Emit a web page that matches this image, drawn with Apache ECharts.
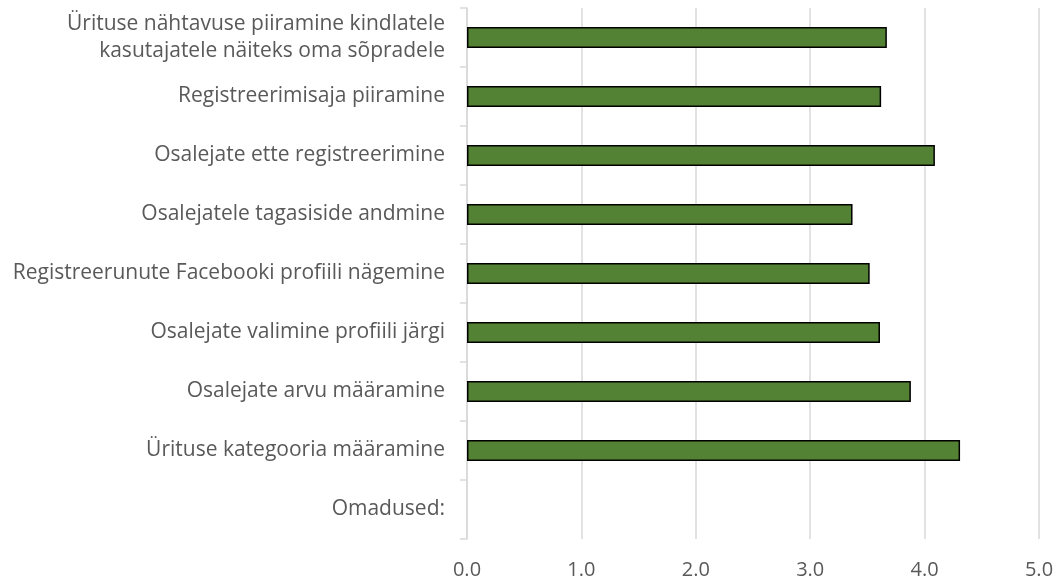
<!DOCTYPE html>
<html lang="et">
<head>
    <meta charset="UTF-8">
    <title>Omadused</title>
    <style>
        html, body { margin: 0; padding: 0; background: #fff; }
        #chart { width: 1057px; height: 583px; }
    </style>
    <script src="https://cdn.jsdelivr.net/npm/echarts@6.0.0/dist/echarts.min.js"></script>
</head>
<body>
    <div id="chart"></div>
    <script type="text/javascript">
        // categories bottom -> top
        var categories = [
            'Omadused:',
            'Ürituse kategooria määramine',
            'Osalejate arvu määramine',
            'Osalejate valimine profiili järgi',
            'Registreerunute Facebooki profiili nägemine',
            'Osalejatele tagasiside andmine',
            'Osalejate ette registreerimine',
            'Registreerimisaja piiramine',
            'Ürituse nähtavuse piiramine kindlatele\nkasutajatele näiteks oma sõpradele'
        ];
        var values = ['-', 4.31, 3.88, 3.61, 3.52, 3.37, 4.09, 3.62, 3.67];
        var xTicks = [0, 1, 2, 3, 4, 5];

        var chart = echarts.init(document.getElementById('chart'));
        var option = {
            animation: false,
            grid: { left: 467, right: 18, top: 8, bottom: 44 },
            xAxis: {
                type: 'value',
                min: xTicks[0],
                max: xTicks[xTicks.length - 1],
                interval: 1,
                axisLine: { show: false },
                axisTick: { show: false },
                splitLine: { lineStyle: { color: '#d9d9d9', width: 1.5 } },
                axisLabel: {
                    margin: 21,
                    color: '#595959',
                    fontFamily: 'Open Sans',
                    fontSize: 20,
                    formatter: function (v) { return v.toFixed(1); }
                }
            },
            yAxis: {
                type: 'category',
                data: categories,
                axisLine: { lineStyle: { color: '#d9d9d9', width: 1.5 } },
                axisTick: { show: true, length: 7, lineStyle: { color: '#d9d9d9', width: 1.5 } },
                axisLabel: {
                    margin: 22,
                    color: '#595959',
                    fontFamily: 'Open Sans',
                    fontSize: 21,
                    lineHeight: 27
                }
            },
            series: [{
                type: 'bar',
                data: values,
                barWidth: 21,
                itemStyle: { color: '#548235', borderColor: '#000', borderWidth: 1.5 }
            }]
        };
        chart.setOption(option);
    </script>
</body>
</html>
